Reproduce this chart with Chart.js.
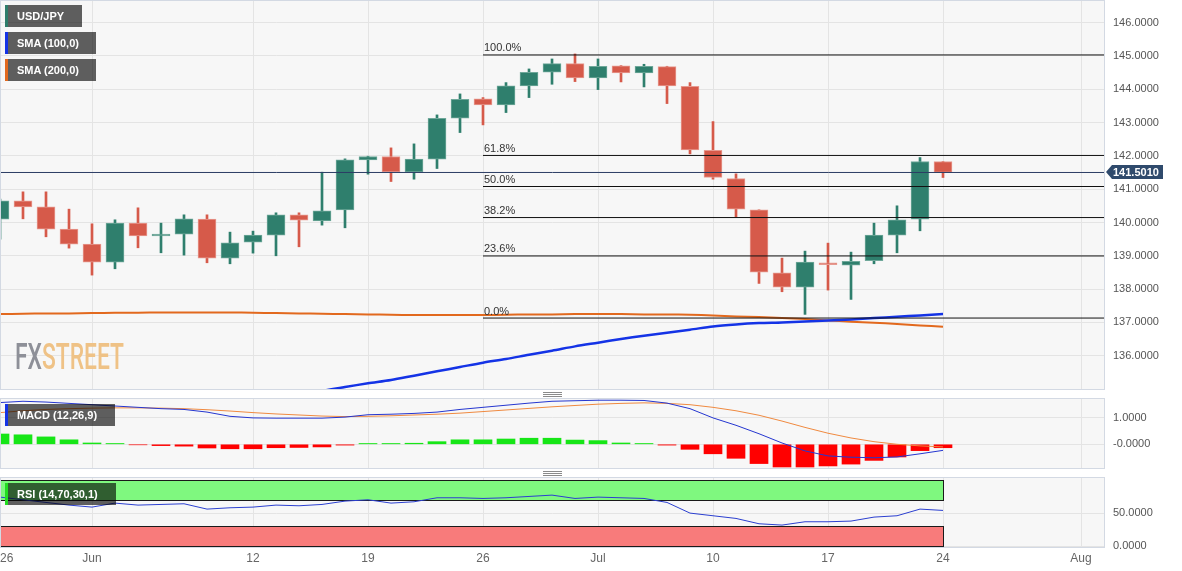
<!DOCTYPE html>
<html>
<head>
<meta charset="utf-8">
<title>USD/JPY daily</title>
<script src="https://cdn.jsdelivr.net/npm/chart.js@4.4.1/dist/chart.umd.min.js"></script>
<style>
  body { margin: 0; background: #fff; font-family: 'Liberation Sans', Arial, sans-serif; }
  #wrap { position: relative; width: 1182px; height: 571px; overflow: hidden; }
  canvas { position: absolute; left: 0; }
  .tag { position: absolute; left: 5px; height: 22px; line-height: 22px; padding-left: 12px; box-sizing: border-box;
         background: rgba(0,0,0,0.62); color: #fff; font-size: 11px; font-weight: bold; white-space: nowrap; }
  .tag::before { content: ""; position: absolute; left: 0; top: 0; width: 3px; height: 22px; background: var(--c); }
  .grip { position: absolute; left: 543px; width: 19px; height: 1px; background: #8a8a8a;
          box-shadow: 0 2px 0 #8a8a8a, 0 4px 0 #8a8a8a; }
</style>
</head>
<body>
<div id="wrap">
  <canvas id="main" width="1182" height="391" style="top:0"></canvas>
  <canvas id="macd" width="1182" height="71" style="top:398px"></canvas>
  <canvas id="rsi" width="1182" height="94" style="top:477px"></canvas>
  <div class="tag" style="top:5px;width:77px;--c:#2e7d6b">USD/JPY</div>
  <div class="tag" style="top:32px;width:91px;--c:#1433e6">SMA (100,0)</div>
  <div class="tag" style="top:59px;width:91px;--c:#e2691e">SMA (200,0)</div>
  <div class="tag" style="top:404px;width:110px;--c:#1433e6">MACD (12,26,9)</div>
  <div class="tag" style="top:483px;width:111px;--c:#22dd22">RSI (14,70,30,1)</div>
  <div class="grip" style="top:392px"></div>
  <div class="grip" style="top:471px"></div>
</div>
<script>
// trading days shown on the chart (x value = position in this list)
const dates = ['May 26','May 29','May 30','May 31','Jun 1','Jun 2','Jun 5','Jun 6','Jun 7','Jun 8','Jun 9',
  'Jun 12','Jun 13','Jun 14','Jun 15','Jun 16','Jun 19','Jun 20','Jun 21','Jun 22','Jun 23',
  'Jun 26','Jun 27','Jun 28','Jun 29','Jun 30','Jul 3','Jul 4','Jul 5','Jul 6','Jul 7',
  'Jul 10','Jul 11','Jul 12','Jul 13','Jul 14','Jul 17','Jul 18','Jul 19','Jul 20','Jul 21','Jul 24'];

const open  = [140.10,140.65,140.47,139.80,139.35,138.81,139.98,139.60,139.65,140.10,138.93,
  139.41,139.62,140.23,140.05,140.38,141.88,141.98,141.52,141.90,143.13,
  143.71,143.53,144.10,144.51,144.77,144.34,144.70,144.49,144.68,144.09,
  142.17,141.32,140.38,138.49,138.06,138.79,138.72,138.85,139.62,140.10,141.83];
const high  = [140.70,140.92,140.92,140.40,139.96,140.08,140.44,139.98,140.23,140.23,139.71,
  139.74,140.29,140.29,141.51,141.91,141.99,142.24,142.36,143.23,143.86,
  143.75,144.20,144.61,144.91,145.06,144.91,144.71,144.75,144.69,144.20,
  143.03,141.46,140.38,138.93,139.14,139.38,139.11,139.98,140.50,141.95,141.83];
const low   = [139.50,140.11,139.57,139.23,138.42,138.61,139.24,139.09,139.02,138.79,138.76,
  139.08,139.00,139.27,139.92,139.84,141.45,141.23,141.30,141.62,142.70,
  142.93,143.30,143.75,144.15,144.23,143.99,144.22,144.07,143.57,142.06,
  141.30,140.17,138.17,137.92,137.24,137.97,137.69,138.76,139.09,139.75,141.35];
const close = [140.65,140.47,139.80,139.35,138.81,139.98,139.60,139.65,140.11,138.93,139.39,
  139.62,140.23,140.07,140.35,141.88,141.98,141.52,141.90,143.13,143.70,
  143.53,144.10,144.51,144.77,144.34,144.69,144.49,144.69,144.10,142.18,
  141.35,140.40,138.51,138.06,138.81,138.73,138.83,139.62,140.08,141.83,141.50];

const sma100 = [null,null,null,null,null,null,null,null,null,null,null,null,null,
  134.80,134.94,135.06,135.17,135.27,135.40,135.53,135.66,135.79,135.90,136.03,136.15,136.28,
  136.39,136.50,136.60,136.69,136.78,136.88,136.94,136.98,137.00,137.03,137.06,137.09,137.13,
  137.17,137.21,137.25];
const sma200 = [137.25,137.26,137.27,137.27,137.28,137.29,137.29,137.30,137.30,137.30,137.30,
  137.29,137.28,137.27,137.26,137.25,137.24,137.23,137.22,137.22,137.22,
  137.22,137.23,137.24,137.24,137.25,137.25,137.25,137.24,137.24,137.23,
  137.21,137.18,137.16,137.13,137.10,137.06,137.02,136.99,136.95,136.91,136.87];

const lastPrice = 141.501;
const fibLevels = [0, 23.6, 38.2, 50, 61.8, 100];
const fibLow = 137.13, fibHigh = 145.03, fibStart = 21;

const macdLine = [1.58,1.63,1.60,1.55,1.50,1.45,1.40,1.35,1.32,1.22,1.06,
  1.00,0.99,0.99,0.99,1.03,1.12,1.14,1.17,1.22,1.32,
  1.40,1.48,1.56,1.63,1.65,1.67,1.67,1.66,1.56,1.35,
  1.00,0.72,0.40,0.05,-0.25,-0.44,-0.49,-0.51,-0.48,-0.36,-0.23];
const signalLine = [1.20,1.27,1.32,1.35,1.37,1.38,1.38,1.37,1.35,1.31,1.26,
  1.20,1.15,1.11,1.07,1.05,1.06,1.08,1.11,1.14,1.18,
  1.24,1.30,1.36,1.42,1.47,1.52,1.55,1.57,1.55,1.50,
  1.40,1.27,1.10,0.88,0.64,0.42,0.24,0.10,0.00,-0.06,-0.10];
const macdHist = [0.39,0.36,0.28,0.17,0.05,0.03,-0.02,-0.05,-0.07,-0.14,-0.17,
  -0.17,-0.13,-0.12,-0.10,-0.03,0.03,0.03,0.04,0.10,0.17,
  0.17,0.20,0.23,0.23,0.16,0.14,0.05,0.03,-0.03,-0.19,
  -0.36,-0.53,-0.73,-0.86,-0.86,-0.82,-0.75,-0.61,-0.48,-0.24,-0.13];

const rsi = [74,70,66,62,59,65,62,63,64,56,58,
  59,62,61,63,68,70,65,67,73,73,
  72,73,75,77,72,74,73,72,66,50,
  46,42,34,32,37,37,38,44,46,56,54];
const rsiOverbought = [70, 100];
const rsiOversold = [0, 30];

const tickIdx = [0, 4, 11, 16, 21, 26, 31, 36, 41, 47];
const tickLabels = ['26', 'Jun', '12', '19', '26', 'Jul', '10', '17', '24', 'Aug'];
const priceTicks = [136, 137, 138, 139, 140, 141, 142, 143, 144, 145, 146];
const macdTicks = [0, 1];
const rsiTicks = [0, 50];

const xMax = 48.043;
const upCol = '#2f7f6d', downCol = '#d65a4a';

Chart.defaults.font.family = "'Liberation Sans', Arial, sans-serif";
Chart.defaults.animation = false;
Chart.defaults.plugins.legend.display = false;
Chart.defaults.plugins.tooltip.enabled = false;

function xAxis() {
  return {
    type: 'linear', min: 0, max: xMax, offset: false,
    afterBuildTicks: s => { s.ticks = tickIdx.map(v => ({ value: v })); },
    afterFit: s => { s.height = 0; s.paddingLeft = 0; s.paddingRight = 0; },
    ticks: { display: false },
    grid: { color: '#e4e4e4', drawTicks: false, offset: false },
    border: { display: false }
  };
}

function yAxis(min, max, ticks, fmt) {
  return {
    position: 'right', min: min, max: max,
    afterBuildTicks: s => { s.ticks = ticks.map(v => ({ value: v })); },
    afterFit: s => { s.width = 77; s.paddingTop = 0; s.paddingBottom = 0; },
    grid: { color: '#e4e4e4', drawTicks: false },
    border: { display: false },
    ticks: { padding: 8, color: '#555', font: { size: 11 }, callback: fmt }
  };
}

const panel = {
  id: 'panel',
  beforeDraw(c) {
    const a = c.chartArea, ctx = c.ctx;
    ctx.save();
    ctx.fillStyle = '#f7f7f7';
    ctx.fillRect(a.left, a.top, a.width, a.height);
    ctx.restore();
  },
  afterDraw(c) {
    const a = c.chartArea, ctx = c.ctx;
    ctx.save();
    ctx.strokeStyle = '#d3d9e3';
    ctx.lineWidth = 1;
    ctx.strokeRect(a.left + 0.5, a.top - 0.5, a.width - 1, a.height + 1);
    ctx.restore();
  }
};

// ---------- main price panel ----------
const candleCol = close.map((c, i) => c >= open[i] ? upCol : downCol);
const edgeCol = close.map((c, i) => c >= open[i] ? '#6fa89a' : '#e79a90');

const fibSets = fibLevels.map(l => {
  const v = fibLow + (fibHigh - fibLow) * l / 100;
  return {
    type: 'line', data: [{ x: fibStart, y: v }, { x: xMax, y: v }],
    borderColor: '#111', borderWidth: 1, pointRadius: 0, order: 1, clip: 0
  };
});

const mainDeco = {
  id: 'mainDeco',
  beforeDatasetsDraw(c) {
    const a = c.chartArea, ctx = c.ctx;
    ctx.save();
    ctx.font = '500 36px Roboto';
    const w1 = ctx.measureText('FX').width, w2 = ctx.measureText('STREET').width;
    ctx.translate(a.left + 15, a.bottom - 20);
    ctx.scale(109 / (w1 + w2), 1);
    ctx.fillStyle = '#8e9098';
    ctx.fillText('FX', 0, 0);
    ctx.fillStyle = '#efc286';
    ctx.fillText('STREET', w1, 0);
    ctx.restore();
  },
  afterDatasetsDraw(c) {
    const ctx = c.ctx, xs = c.scales.x, ys = c.scales.y;
    ctx.save();
    ctx.font = '11px "Liberation Sans", Arial, sans-serif';
    ctx.fillStyle = '#333';
    ctx.textBaseline = 'bottom';
    fibLevels.forEach(l => {
      const v = fibLow + (fibHigh - fibLow) * l / 100;
      ctx.fillText(l.toFixed(1) + '%', xs.getPixelForValue(fibStart) + 1, ys.getPixelForValue(v) - 1);
    });
    ctx.restore();
  },
  afterDraw(c) {
    const a = c.chartArea, ctx = c.ctx, y = Math.round(c.scales.y.getPixelForValue(lastPrice));
    ctx.save();
    ctx.fillStyle = '#2f4a6c';
    ctx.beginPath();
    ctx.moveTo(a.right + 1, y);
    ctx.lineTo(a.right + 7, y - 7);
    ctx.lineTo(a.right + 58, y - 7);
    ctx.lineTo(a.right + 58, y + 7);
    ctx.lineTo(a.right + 7, y + 7);
    ctx.closePath();
    ctx.fill();
    ctx.fillStyle = '#fff';
    ctx.font = 'bold 11px "Liberation Sans", Arial, sans-serif';
    ctx.textBaseline = 'middle';
    ctx.fillText(lastPrice.toFixed(4), a.right + 8, y + 0.5);
    ctx.restore();
  }
};

new Chart(document.getElementById('main'), {
  type: 'bar',
  data: {
    datasets: [
      { type: 'line', data: [{ x: 0, y: lastPrice }, { x: xMax, y: lastPrice }],
        borderColor: '#2c3d64', borderWidth: 1, pointRadius: 0, order: 0, clip: 0 },
      ...fibSets,
      { data: dates.map((d, i) => ({ x: i, y: [open[i], close[i]] })),
        backgroundColor: candleCol, borderColor: edgeCol, borderWidth: 1, borderSkipped: false,
        barThickness: 18, grouped: false, order: 2 },
      { data: dates.map((d, i) => ({ x: i, y: [low[i], high[i]] })),
        backgroundColor: candleCol, barThickness: 2, grouped: false, order: 3 },
      { type: 'line', data: dates.map((d, i) => ({ x: i, y: sma100[i] })),
        borderColor: '#1433e6', borderWidth: 2.5, pointRadius: 0, tension: 0.3, order: 4, clip: 0 },
      { type: 'line', data: dates.map((d, i) => ({ x: i, y: sma200[i] })),
        borderColor: '#e2691e', borderWidth: 2, pointRadius: 0, tension: 0.3, order: 5, clip: 0 }
    ]
  },
  options: {
    responsive: false,
    layout: { padding: { top: 1, bottom: 2, left: 0, right: 0 } },
    scales: {
      x: xAxis(),
      y: yAxis(135.0, 146.65, priceTicks, v => v.toFixed(4))
    }
  },
  plugins: [panel, mainDeco]
});

// ---------- MACD panel ----------
new Chart(document.getElementById('macd'), {
  type: 'bar',
  data: {
    datasets: [
      { type: 'line', data: dates.map((d, i) => ({ x: i, y: macdLine[i] })),
        borderColor: '#2536d0', borderWidth: 1, pointRadius: 0, order: 0, clip: 0 },
      { type: 'line', data: dates.map((d, i) => ({ x: i, y: signalLine[i] })),
        borderColor: '#f08a40', borderWidth: 1, pointRadius: 0, order: 1, clip: 0 },
      { data: dates.map((d, i) => ({ x: i, y: macdHist[i] })),
        backgroundColor: macdHist.map(v => v >= 0 ? '#17e617' : '#ff0000'),
        barThickness: 18, grouped: false, order: 2 }
    ]
  },
  options: {
    responsive: false,
    layout: { padding: { top: 1, bottom: 1, left: 0, right: 0 } },
    scales: {
      x: xAxis(),
      y: yAxis(-0.898, 1.716, macdTicks, v => v === 0 ? '-0.0000' : v.toFixed(4))
    }
  },
  plugins: [panel]
});

// ---------- RSI panel ----------
const rsiDeco = {
  id: 'rsiDeco',
  beforeDatasetsDraw(c) {
    const ctx = c.ctx, xs = c.scales.x, ys = c.scales.y;
    const x0 = xs.getPixelForValue(0), x1 = Math.round(xs.getPixelForValue(dates.length - 1)) + 0.5;
    const bands = [[rsiOverbought, '#7ff87f'], [rsiOversold, '#f87b7b']];
    ctx.save();
    bands.forEach(([b, col]) => {
      const top = Math.round(ys.getPixelForValue(b[1])) + 0.5, bot = Math.round(ys.getPixelForValue(b[0])) + 0.5;
      ctx.fillStyle = col;
      ctx.fillRect(x0, top, x1 - x0, bot - top);
      ctx.strokeStyle = '#1a1a1a';
      ctx.lineWidth = 1;
      ctx.strokeRect(x0 + 0.5, top, x1 - x0 - 0.5, bot - top);
    });
    ctx.restore();
  },
  afterDraw(c) {
    const ctx = c.ctx, xs = c.scales.x, a = c.chartArea;
    ctx.save();
    ctx.font = '12px "Liberation Sans", Arial, sans-serif';
    ctx.fillStyle = '#666';
    ctx.textBaseline = 'middle';
    tickIdx.forEach((v, i) => {
      const w = ctx.measureText(tickLabels[i]).width;
      const left = Math.max(xs.getPixelForValue(v) - w / 2, 0);
      ctx.fillText(tickLabels[i], left, a.bottom + 12);
    });
    ctx.restore();
  }
};

new Chart(document.getElementById('rsi'), {
  type: 'line',
  data: {
    datasets: [
      { data: dates.map((d, i) => ({ x: i, y: rsi[i] })),
        borderColor: '#2b3fd0', borderWidth: 1, pointRadius: 0, clip: 0 }
    ]
  },
  options: {
    responsive: false,
    layout: { padding: { top: 1, bottom: 24, left: 0, right: 0 } },
    scales: {
      x: xAxis(),
      y: yAxis(-0.9, 102.7, rsiTicks, v => v.toFixed(4))
    }
  },
  plugins: [panel, rsiDeco]
});
</script>
</body>
</html>
